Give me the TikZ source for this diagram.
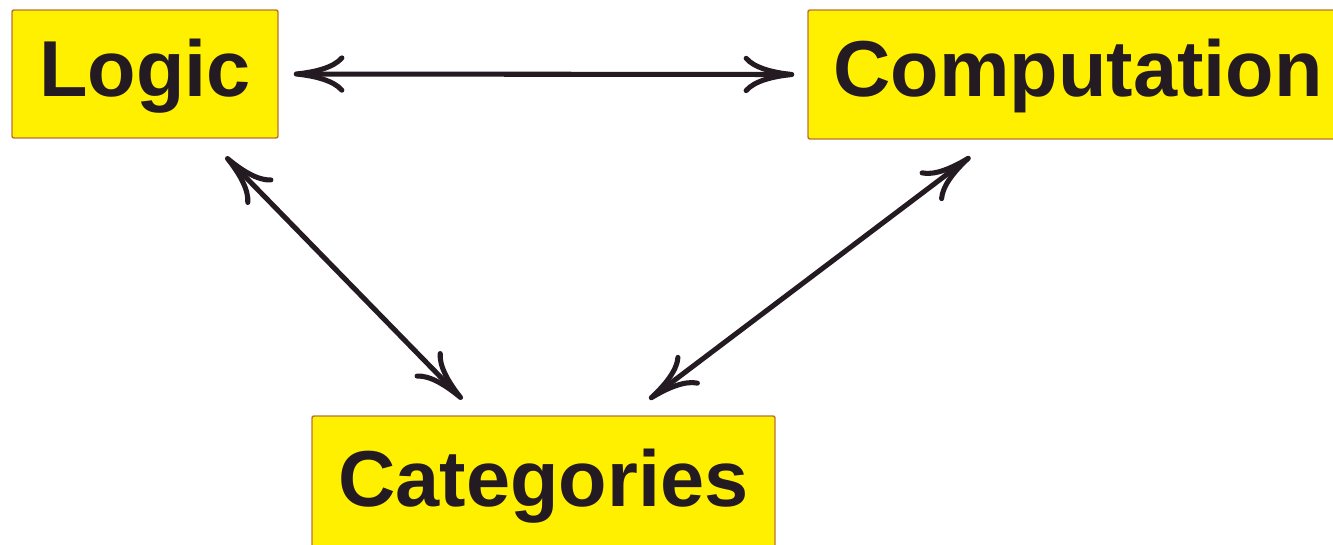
\documentclass[tikz,border=0pt]{standalone}
\usepackage{fontspec}
\setmainfont{Liberation Sans}
\usetikzlibrary{arrows.meta,calc}
\definecolor{boxfill}{HTML}{FFF000}
\definecolor{boxline}{HTML}{B87333}
\definecolor{ink}{HTML}{231A22}
\begin{document}
\begin{tikzpicture}[x=0.75pt,y=-0.75pt,
  box/.style={draw=boxline, line width=1.1pt, fill=boxfill, rounded corners=1.5pt,
    inner sep=0pt, text height=33pt, text depth=0pt, text=ink,
    font=\fontsize{59.5}{60}\selectfont\bfseries},
  link/.style={draw=ink, line width=3.8pt, line cap=round,
    {Computer Modern Rightarrow[length=38pt,width=28pt,round]}-{Computer Modern Rightarrow[length=38pt,width=28pt,round]}}]
\useasboundingbox (0,0) rectangle (1333,544);
\node[box, minimum width=266*0.75pt, minimum height=128*0.75pt] (logic) at (145,74) {Logic};
\node[box, minimum width=540*0.75pt, minimum height=129*0.75pt] (comp) at (1078,74.5) {Computation};
\node[box, minimum width=463*0.75pt, minimum height=136*0.75pt] (cat) at (543.5,484) {Categories};
\draw[link] ($(logic.east)+(15,0)$) -- ($(comp.west)+(-13,0)$);
\draw[link] ($(logic.south east)+(-53,18)$) -- ($(cat.north west)+(151,-16)$);
\draw[link] ($(comp.south west)+(163,17)$) -- ($(cat.north west)+(338,-16)$);
\end{tikzpicture}
\end{document}
